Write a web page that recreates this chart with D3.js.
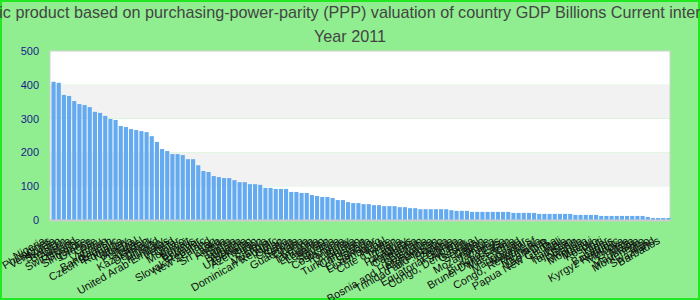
<!DOCTYPE html>
<html lang="en">
<head>
  <meta charset="UTF-8"/>
  <title>GDP PPP 2011</title>
  <script src="https://d3js.org/d3.v7.min.js"></script>
  <style>
    body { margin: 0; }
    svg { display: block; font-family: "Liberation Sans", Arial, sans-serif; }
  </style>
</head>
<body>
<script>

var countries = ["Nigeria", "Philippines", "Venezuela", "Sweden", "Belgium", "Austria",
  "Switzerland", "Ukraine", "Singapore", "Greece", "Chile", "Peru", "Vietnam", "Bangladesh",
  "Czech Republic", "Romania", "Norway", "Algeria", "Portugal", "Israel", "Kazakhstan", "Denmark",
  "Finland", "Hungary", "United Arab Emirates", "Ireland", "Qatar", "Morocco", "Kuwait", "Belarus",
  "Ecuador", "Slovak Republic", "New Zealand", "Iraq", "Sri Lanka", "Angola", "Syria", "Tunisia",
  "Bulgaria", "Ethiopia", "Uzbekistan", "Azerbaijan", "Sudan", "Libya", "Myanmar",
  "Dominican Republic", "Oman", "Croatia", "Serbia", "Guatemala", "Ghana", "Kenya", "Tanzania",
  "Lithuania", "Lebanon", "Yemen", "Slovenia", "Costa Rica", "Panama", "Uruguay", "Bolivia",
  "Turkmenistan", "Cameroon", "Uganda", "El Salvador", "Luxembourg", "Nepal", "Côte d'Ivoire",
  "Jordan", "Latvia", "Paraguay", "Honduras", "Cambodia", "Bahrain", "Botswana",
  "Bosnia and Herzegovina", "Afghanistan", "Trinidad and Tobago", "Estonia", "Zambia",
  "Equatorial Guinea", "Albania", "Congo, Dem. Rep.", "Georgia", "Senegal", "Gabon",
  "Mozambique", "Jamaica", "Cyprus", "Burkina Faso", "Brunei Darussalam", "Macedonia", "Chad",
  "Madagascar", "Mauritius", "Congo, Republic of", "Armenia", "Nicaragua", "Lao P.D.R.",
  "Papua New Guinea", "Mali", "Namibia", "Tajikistan", "Benin", "Rwanda", "Mongolia", "Malawi",
  "Kosovo", "Haiti", "Niger", "Bahamas", "Kyrgyz Republic", "Moldova", "Guinea", "Malta",
  "Mauritania", "Montenegro", "Togo", "Swaziland", "Barbados"];

var gdpValues = [409, 406, 370, 367, 352, 343, 340, 334, 320, 317, 308, 299, 296, 278, 275, 269,
  266, 263, 260, 248, 231, 210, 204, 195, 195, 192, 180, 180, 162, 145, 142, 130, 127, 124, 124,
  118, 112, 112, 106, 106, 104, 95, 95, 92, 92, 92, 83, 83, 80, 80, 74, 71, 68, 68, 65, 59, 59,
  53, 50, 50, 47, 47, 44, 44, 41, 41, 41, 38, 38, 35, 35, 32, 32, 32, 32, 32, 32, 29, 27, 27, 27,
  24, 24, 24, 24, 24, 24, 24, 24, 21, 21, 21, 21, 21, 18, 18, 18, 18, 18, 18, 18, 15, 15, 15, 15,
  15, 12, 12, 12, 12, 12, 12, 12, 12, 12, 9, 6, 6, 6, 6];

var yTicks = [0, 100, 200, 300, 400, 500];

var titleLines = ["Gross domestic product based on purchasing-power-parity (PPP) valuation of country GDP Billions Current international dollar",
  "Year 2011"];

var w = 700;
var h = 300;
var plotLeft = 50, plotRight = 670, plotTop = 51, plotBottom = 220;

var svg = d3.select("body")
            .append("svg")
            .attr("width", w)
            .attr("height", h);

svg.append("rect")
   .attr("x", 1).attr("y", 1)
   .attr("width", w - 2).attr("height", h - 2)
   .attr("fill", "#90ee90")
   .attr("stroke", "#22e822")
   .attr("stroke-width", 2);

svg.selectAll("text.title")
   .data(titleLines)
   .enter()
   .append("text")
   .attr("class", "title")
   .attr("x", w / 2)
   .attr("y", function(d, i) { return 18 + i * 24; })
   .attr("text-anchor", "middle")
   .attr("font-size", "16.2px")
   .attr("fill", "#444")
   .text(function(d) { return d; });

var y = d3.scaleLinear().domain([0, 500]).range([plotBottom, plotTop]);

var x = d3.scaleBand()
          .domain(countries)
          .range([plotLeft + 1, plotRight + 1])
          .paddingInner(0.2)
          .paddingOuter(0.1);

// alternating bands
svg.selectAll("rect.band")
   .data(yTicks.slice(0, -1))
   .enter()
   .append("rect")
   .attr("class", "band")
   .attr("x", plotLeft)
   .attr("width", plotRight - plotLeft)
   .attr("y", function(d) { return y(d + 100); })
   .attr("height", function(d) { return y(d) - y(d + 100); })
   .attr("fill", function(d, i) { return i % 2 ? "#f2f2f2" : "#ffffff"; });

svg.append("rect")
   .attr("x", plotLeft).attr("y", plotTop)
   .attr("width", plotRight - plotLeft).attr("height", plotBottom - plotTop)
   .attr("fill", "none")
   .attr("stroke", "#d0d0d0")
   .attr("stroke-width", 1);

svg.selectAll("rect.bar")
   .data(gdpValues)
   .enter()
   .append("rect")
   .attr("class", "bar")
   .attr("x", function(d, i) { return x(countries[i]); })
   .attr("width", x.bandwidth())
   .attr("y", function(d) { return y(d); })
   .attr("height", function(d) { return y(0) - y(d); })
   .attr("fill", "#64aaf0");

svg.append("line")
   .attr("x1", plotLeft).attr("x2", plotRight)
   .attr("y1", plotBottom + 0.5).attr("y2", plotBottom + 0.5)
   .attr("stroke", "#cccccc")
   .attr("stroke-width", 2);

var yAxis = svg.append("g")
   .attr("transform", "translate(" + plotLeft + ",0)")
   .call(d3.axisLeft(y).tickValues(yTicks).tickSize(0).tickPadding(11));
yAxis.select(".domain").remove();
yAxis.selectAll("text")
     .attr("font-size", "11px")
     .attr("font-family", "Liberation Sans, Arial, sans-serif")
     .attr("fill", "#1a1a8c");

var xAxis = svg.append("g")
   .attr("transform", "translate(0," + plotBottom + ")")
   .call(d3.axisBottom(x).tickSize(0).tickPadding(0));
xAxis.select(".domain").remove();
xAxis.selectAll("text")
     .attr("font-size", "11px")
     .attr("font-family", "Liberation Sans, Arial, sans-serif")
     .attr("fill", "#111")
     .attr("text-anchor", "end")
     .attr("x", -11)
     .attr("dy", "0.35em")
     .attr("transform", "translate(0,14) rotate(-30)");

</script>
</body>
</html>
